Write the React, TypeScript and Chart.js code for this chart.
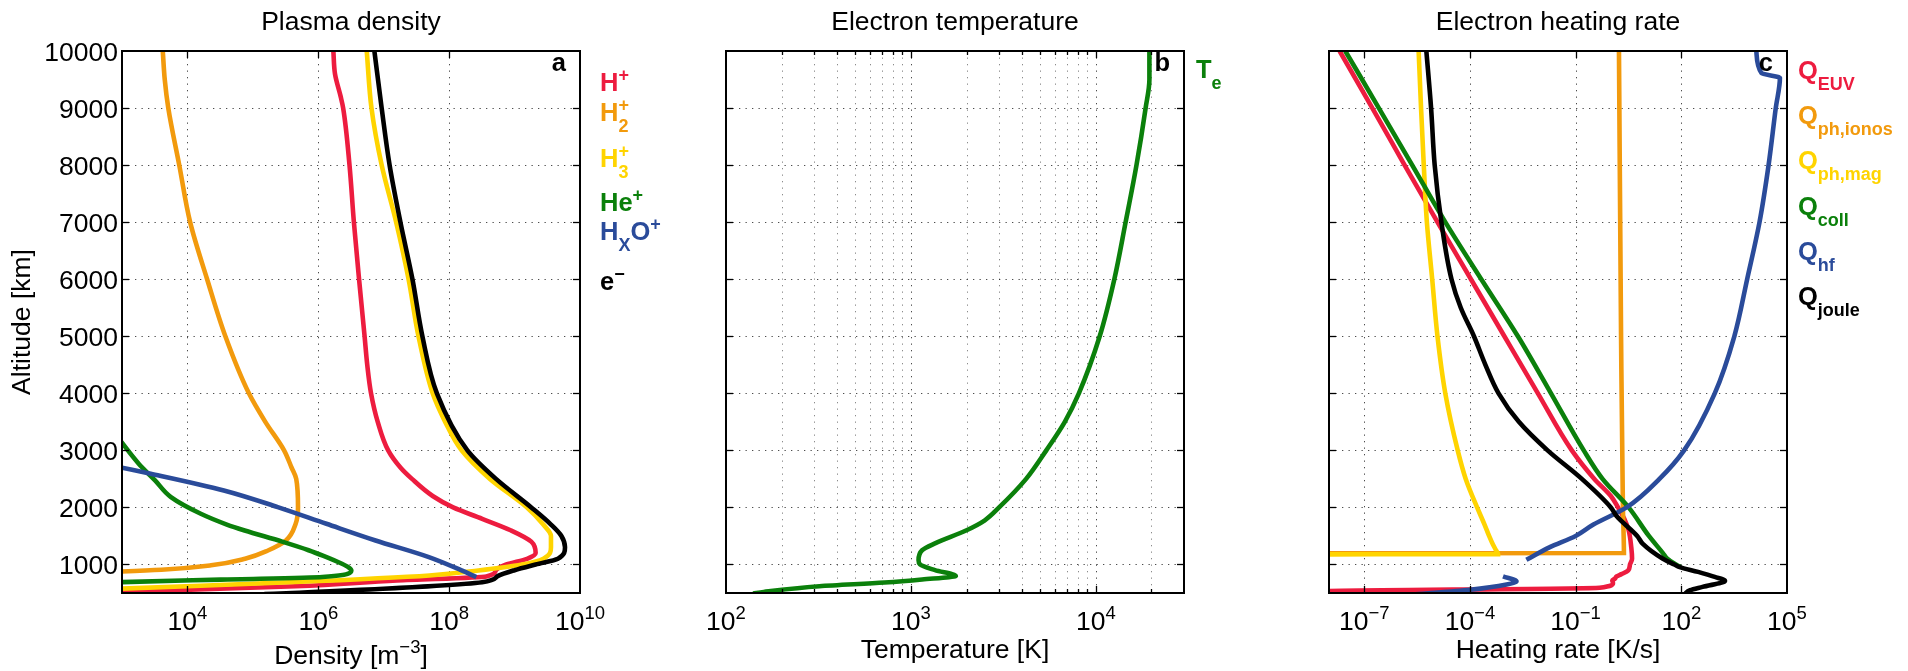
import { useEffect, useRef } from "react";
import { Chart, registerables } from "chart.js";
import type { Plugin, ChartConfiguration } from "chart.js";

Chart.register(...registerables);

const W = 1908;
const H = 671;
const FONT = '"Liberation Sans", Arial, Helvetica, sans-serif';

const RED = "#ED1C3F";
const ORANGE = "#F29A0D";
const GOLD = "#FFD400";
const GREEN = "#0B800B";
const BLUE = "#2A4B9A";
const BLACK = "#000000";

// ---------- shared altitude axis (km)
const altitudeTicks = [1000, 2000, 3000, 4000, 5000, 6000, 7000, 8000, 9000, 10000];
const altitudeTickLabels = ["1000", "2000", "3000", "4000", "5000", "6000", "7000", "8000", "9000", "10000"];

// ---------- panel a: plasma density (m^-3)
const densityTicks = [1e4, 1e6, 1e8, 1e10];
const densityTickLabels = ["10^{4}", "10^{6}", "10^{8}", "10^{10}"];
const densityLegend = ["H^{+}", "H_{2}^{+}", "H_{3}^{+}", "He^{+}", "H_{X}O^{+}", "e^{\u2212}"];

const altHplus = [10000, 9600, 9200, 9000, 8000, 7000, 6000, 5000, 4500, 4000, 3500, 3000, 2700, 2500, 2200, 2000, 1800, 1600, 1400, 1200, 1100, 1000, 900, 790, 720, 617, 518, 480];
const denHplus = [1.7e6, 1.8e6, 2.2e6, 2.4e6, 3.0e6, 3.5e6, 4.2e6, 5.1e6, 5.6e6, 6.4e6, 8.1e6, 1.17e7, 1.8e7, 2.7e7, 5.6e7, 1.15e8, 3.2e8, 8.7e8, 1.8e9, 2.1e9, 1.55e9, 7.5e8, 5.2e8, 3.7e8, 1.6e7, 4.5e5, 1.0e3, 2.0e2];

const altH2plus = [10000, 9500, 9000, 8000, 7000, 6000, 5000, 4000, 3500, 3000, 2700, 2500, 2000, 1710, 1420, 1245, 1100, 985, 907, 878, 860];
const denH2plus = [4.2e3, 4.5e3, 5.1e3, 7.5e3, 1.1e4, 2.0e4, 3.8e4, 8.7e4, 1.55e5, 3.0e5, 3.9e5, 4.6e5, 4.9e5, 4.5e5, 3.2e5, 1.7e5, 7.6e4, 2.3e4, 4.0e3, 1.0e3, 3.0e2];

const altH3plus = [10000, 9000, 8000, 7000, 6000, 5000, 4000, 3500, 3000, 2500, 2000, 1700, 1500, 1300, 1100, 1000, 895, 808, 692, 576, 550];
const denH3plus = [5.5e6, 6.5e6, 9.3e6, 1.55e7, 2.4e7, 3.4e7, 5.6e7, 8.7e7, 1.55e8, 4.2e8, 1.55e9, 2.75e9, 3.6e9, 3.6e9, 2.75e9, 1.3e9, 2.8e8, 5.0e7, 4.5e5, 1.0e3, 3.0e2];

const altHeplus = [3200, 2766, 2474, 2181, 1889, 1700, 1596, 1400, 1250, 1150, 1012, 950, 895, 780, 735, 690, 670];
const denHeplus = [9.0e2, 1.8e3, 3.2e3, 5.6e3, 1.6e4, 4.0e4, 7.5e4, 2.8e5, 7.1e5, 1.2e6, 2.3e6, 2.9e6, 3.2e6, 1.15e6, 3.2e4, 1.0e3, 3.0e2];

const altHxOplus = [2750, 2696, 2591, 2298, 2006, 1713, 1421, 1129, 895, 778];
const denHxOplus = [6.0e2, 1.0e3, 2.75e3, 3.6e4, 2.4e5, 1.33e6, 7.5e6, 4.9e7, 1.55e8, 2.6e8];

const altElectron = [10000, 9000, 8000, 7000, 6000, 5000, 4000, 3000, 2500, 2000, 1700, 1500, 1300, 1100, 1000, 900, 800, 690, 500, 480];
const denElectron = [7.2e6, 9.3e6, 1.23e7, 1.8e7, 2.75e7, 3.9e7, 6.5e7, 1.9e8, 5.2e8, 1.8e9, 3.6e9, 5.2e9, 5.9e9, 4.6e9, 2.1e9, 1.0e9, 5.6e8, 3.2e8, 4.0e5, 1.5e5];

// ---------- panel b: electron temperature (K)
const tempTicks = [1e2, 1e3, 1e4];
const tempTickLabels = ["10^{2}", "10^{3}", "10^{4}"];
const tempMinorTicks = [200, 300, 400, 500, 600, 700, 800, 900, 2000, 3000, 4000, 5000, 6000, 7000, 8000, 9000, 20000];
const tempLegend = ["T_{e}"];

const altTe = [10000, 9500, 9000, 8000, 7000, 6000, 5000, 4000, 3500, 3000, 2500, 2000, 1770, 1600, 1370, 1250, 1075, 1000, 900, 800, 736, 683, 619, 519, 490];
const tempTe = [1.95e4, 1.95e4, 1.86e4, 1.66e4, 1.45e4, 1.26e4, 1.05e4, 8.1e3, 6.8e3, 5.4e3, 4.2e3, 3.0e3, 2.5e3, 2.0e3, 1.35e3, 1.15e3, 1.1e3, 1.12e3, 1.35e3, 1.75e3, 1.15e3, 7.2e2, 3.2e2, 1.6e2, 1.4e2];

// ---------- panel c: electron heating rate (K/s)
const heatTicks = [1e-7, 1e-4, 1e-1, 1e2, 1e5];
const heatTickLabels = ["10^{\u22127}", "10^{\u22124}", "10^{\u22121}", "10^{2}", "10^{5}"];
const heatLegend = ["Q_{EUV}", "Q_{ph,ionos}", "Q_{ph,mag}", "Q_{coll}", "Q_{hf}", "Q_{joule}"];

const altQeuv = [10000, 9000, 8000, 7000, 6000, 5000, 4000, 3000, 2500, 2200, 2000, 1800, 1600, 1300, 1100, 1000, 895, 830, 790, 750, 720, 675, 593, 535, 520];
const qEuv = [2.0e-8, 1.7e-7, 1.4e-6, 1.2e-5, 1.07e-4, 9.5e-4, 8.5e-3, 7.8e-2, 0.34, 1.0, 1.6, 2.4, 3.2, 3.8, 4.0, 3.5, 3.1, 2.0, 1.45, 1.3, 1.1, 1.15, 0.48, 1e-8, 1e-9];

const altQionos = [10000, 5000, 2000, 1200, 1196];
const qIonos = [1.7, 1.95, 2.2, 2.35, 1e-9];

const altQmag = [10000, 9000, 8000, 7000, 6000, 5000, 4000, 3000, 2500, 2000, 1700, 1500, 1350, 1250, 1182, 1176];
const qMag = [3.5e-6, 4.1e-6, 4.9e-6, 6.0e-6, 8.5e-6, 1.2e-5, 2.0e-5, 4.5e-5, 7.6e-5, 1.6e-4, 2.6e-4, 3.5e-4, 4.5e-4, 5.5e-4, 6.3e-4, 1e-9];

const altQcoll = [10000, 9000, 8000, 7000, 6000, 5000, 4000, 3000, 2500, 2000, 1500, 1200, 1100, 1000, 954];
const qColl = [2.9e-8, 2.6e-7, 2.3e-6, 2.0e-5, 2.1e-4, 2.3e-3, 2.0e-2, 0.17, 0.58, 3.2, 12, 30, 40, 70, 95];

const altQhf = [10000, 9610, 9530, 9000, 8000, 7000, 6000, 5000, 4000, 3000, 2500, 2000, 1700, 1500, 1300, 1081];
const qHf = [1.35e4, 1.9e4, 6.3e4, 4.8e4, 3.0e4, 1.66e4, 7.4e3, 3.2e3, 890, 120, 24, 2.8, 0.32, 0.1, 1.8e-2, 4.0e-3];
const altQhfLow = [477, 558, 651, 704, 791];
const qHfLow = [2.8e-6, 1.0e-4, 1.1e-3, 2.1e-3, 8.7e-4];

const altQjoule = [10000, 9000, 8000, 7000, 6000, 5500, 5000, 4500, 4000, 3500, 3000, 2500, 2000, 1850, 1500, 1360, 1100, 1000, 954, 870, 782, 712, 607, 548, 500, 480];
const qJoule = [5.8e-6, 7.9e-6, 1.0e-5, 1.55e-5, 3.0e-5, 5.5e-5, 1.3e-4, 2.75e-4, 6.5e-4, 2.45e-3, 1.6e-2, 0.15, 1.0, 1.45, 5.6, 8.1, 30, 63, 90, 300, 890, 1740, 400, 178, 135, 130];

// ---------- layout types
type Curve = { alt: number[]; val: number[]; color: string };
type LegendItem = { text: string; color: string; baseline: number };
type PanelCfg = {
  key: string;
  box: { left: number; right: number; top: number; bottom: number };
  xMin: number;
  xMax: number;
  xTicks: number[];
  xTickLabels: string[];
  xMinor: number[];
  yLabels: boolean;
  title: string;
  xTitle: string;
  xTitleBaseline: number;
  letter: string;
  legendX: number;
  legend: LegendItem[];
  curves: Curve[];
};

// ---------- rich text (TeX-like sub/superscripts)
type Run = { t: string; size: number; dy: number };

function parseTex(s: string, main: number, small: number, subDy: number, supDy: number): Run[][] {
  const groups: Run[][] = [];
  let buf = "";
  let lastScript = false;
  const flush = () => {
    if (buf) {
      groups.push([{ t: buf, size: main, dy: 0 }]);
      buf = "";
    }
  };
  let i = 0;
  while (i < s.length) {
    const c = s[i];
    if ((c === "_" || c === "^") && s[i + 1] === "{") {
      flush();
      const end = s.indexOf("}", i);
      const run = { t: s.slice(i + 2, end), size: small, dy: c === "_" ? subDy : supDy };
      if (lastScript) groups[groups.length - 1].push(run);
      else groups.push([run]);
      lastScript = true;
      i = end + 1;
    } else {
      buf += c;
      lastScript = false;
      i++;
    }
  }
  flush();
  return groups;
}

function setFont(ctx: CanvasRenderingContext2D, size: number, bold: boolean) {
  ctx.font = `${bold ? "bold " : ""}${size}px ${FONT}`;
}

type TexOpts = {
  main: number;
  small: number;
  subDy: number;
  supDy: number;
  bold?: boolean;
  color?: string;
  align?: "left" | "center" | "right";
};

function drawTex(ctx: CanvasRenderingContext2D, s: string, x: number, y: number, o: TexOpts) {
  const groups = parseTex(s, o.main, o.small, o.subDy, o.supDy);
  const bold = !!o.bold;
  let w = 0;
  for (const g of groups) {
    let adv = 0;
    for (const r of g) {
      setFont(ctx, r.size, bold);
      adv = Math.max(adv, ctx.measureText(r.t).width);
    }
    w += adv;
  }
  let cx = o.align === "center" ? x - w / 2 : o.align === "right" ? x - w : x;
  ctx.save();
  ctx.fillStyle = o.color ?? "#000";
  ctx.textAlign = "left";
  ctx.textBaseline = "alphabetic";
  for (const g of groups) {
    let adv = 0;
    for (const r of g) {
      setFont(ctx, r.size, bold);
      const rw = ctx.measureText(r.t).width;
      ctx.fillText(r.t, cx, y + r.dy);
      adv = Math.max(adv, rw);
    }
    cx += adv;
  }
  ctx.restore();
}

const AXIS_TEXT: TexOpts = { main: 26.5, small: 18.5, subDy: 8, supDy: -11 };
const LEGEND_TEXT: TexOpts = { main: 25.5, small: 18, subDy: 11, supDy: -10, bold: true };

// ---------- axes frame, grid, ticks and annotations
function framePlugin(p: PanelCfg): Plugin<"line"> {
  return {
    id: "frame-" + p.key,
    beforeDatasetsDraw(chart) {
      const { ctx, chartArea: a } = chart;
      const xs = chart.scales.x;
      const ys = chart.scales.y;
      ctx.save();
      ctx.lineWidth = 1;
      ctx.setLineDash([1.3, 5.2]);
      const vline = (v: number, style: string) => {
        const px = Math.round(xs.getPixelForValue(v)) + 0.5;
        if (px <= a.left + 2 || px >= a.right - 2) return;
        ctx.strokeStyle = style;
        ctx.beginPath();
        ctx.moveTo(px, a.top);
        ctx.lineTo(px, a.bottom);
        ctx.stroke();
      };
      p.xMinor.forEach((v) => vline(v, "rgba(0,0,0,0.45)"));
      p.xTicks.forEach((v) => vline(v, "rgba(0,0,0,0.7)"));
      for (const v of altitudeTicks) {
        const py = Math.round(ys.getPixelForValue(v)) + 0.5;
        if (py <= a.top + 2 || py >= a.bottom - 2) continue;
        ctx.strokeStyle = "rgba(0,0,0,0.7)";
        ctx.beginPath();
        ctx.moveTo(a.left, py);
        ctx.lineTo(a.right, py);
        ctx.stroke();
      }
      ctx.restore();
    },
    afterDatasetsDraw(chart) {
      const { ctx, chartArea: a } = chart;
      const xs = chart.scales.x;
      const ys = chart.scales.y;
      ctx.save();
      ctx.setLineDash([]);
      ctx.strokeStyle = "#000";
      ctx.lineWidth = 1.3;
      const seg = (x1: number, y1: number, x2: number, y2: number) => {
        ctx.beginPath();
        ctx.moveTo(x1, y1);
        ctx.lineTo(x2, y2);
        ctx.stroke();
      };
      const xTick = (v: number, len: number) => {
        const px = Math.round(xs.getPixelForValue(v)) + 0.5;
        if (px <= a.left + 2 || px >= a.right - 2) return;
        seg(px, a.bottom, px, a.bottom - len);
        seg(px, a.top, px, a.top + len);
      };
      p.xMinor.forEach((v) => xTick(v, 4));
      p.xTicks.forEach((v) => xTick(v, 7));
      for (const v of altitudeTicks) {
        const py = Math.round(ys.getPixelForValue(v)) + 0.5;
        if (py <= a.top + 2 || py >= a.bottom - 2) continue;
        seg(a.left, py, a.left + 7, py);
        seg(a.right, py, a.right - 7, py);
      }
      ctx.lineWidth = 2;
      ctx.strokeRect(a.left, a.top, a.right - a.left, a.bottom - a.top);
      ctx.restore();

      const cxm = (a.left + a.right) / 2;
      drawTex(ctx, p.title, cxm, 29.5, { ...AXIS_TEXT, align: "center" });
      p.xTicks.forEach((v, i) => {
        drawTex(ctx, p.xTickLabels[i], xs.getPixelForValue(v), a.bottom + 37, { ...AXIS_TEXT, align: "center" });
      });
      drawTex(ctx, p.xTitle, cxm, p.xTitleBaseline, { ...AXIS_TEXT, align: "center" });

      if (p.yLabels) {
        altitudeTicks.forEach((v, i) => {
          drawTex(ctx, altitudeTickLabels[i], a.left - 4, ys.getPixelForValue(v) + 9.5, { ...AXIS_TEXT, align: "right" });
        });
        ctx.save();
        ctx.translate(30, (a.top + a.bottom) / 2);
        ctx.rotate(-Math.PI / 2);
        setFont(ctx, 26.5, false);
        ctx.fillStyle = "#000";
        ctx.textAlign = "center";
        ctx.textBaseline = "alphabetic";
        ctx.fillText("Altitude [km]", 0, 0);
        ctx.restore();
      }

      drawTex(ctx, p.letter, a.right - 14, a.top + 20, { ...LEGEND_TEXT, align: "right" });
      for (const item of p.legend) {
        drawTex(ctx, item.text, p.legendX, item.baseline, { ...LEGEND_TEXT, color: item.color, align: "left" });
      }
    },
  };
}

// ---------- panels
const PANELS: PanelCfg[] = [
  {
    key: "a",
    box: { left: 122, right: 580, top: 51, bottom: 593 },
    xMin: 1e3,
    xMax: 1e10,
    xTicks: densityTicks,
    xTickLabels: densityTickLabels,
    xMinor: [],
    yLabels: true,
    title: "Plasma density",
    xTitle: "Density [m^{\u22123}]",
    xTitleBaseline: 664,
    letter: "a",
    legendX: 600,
    legend: [
      { text: densityLegend[0], color: RED, baseline: 90.7 },
      { text: densityLegend[1], color: ORANGE, baseline: 120.7 },
      { text: densityLegend[2], color: GOLD, baseline: 166.7 },
      { text: densityLegend[3], color: GREEN, baseline: 210.7 },
      { text: densityLegend[4], color: BLUE, baseline: 240 },
      { text: densityLegend[5], color: BLACK, baseline: 290 },
    ],
    curves: [
      { alt: altHplus, val: denHplus, color: RED },
      { alt: altH2plus, val: denH2plus, color: ORANGE },
      { alt: altH3plus, val: denH3plus, color: GOLD },
      { alt: altHeplus, val: denHeplus, color: GREEN },
      { alt: altHxOplus, val: denHxOplus, color: BLUE },
      { alt: altElectron, val: denElectron, color: BLACK },
    ],
  },
  {
    key: "b",
    box: { left: 726, right: 1184, top: 51, bottom: 593 },
    xMin: 1e2,
    xMax: 3e4,
    xTicks: tempTicks,
    xTickLabels: tempTickLabels,
    xMinor: tempMinorTicks,
    yLabels: false,
    title: "Electron temperature",
    xTitle: "Temperature [K]",
    xTitleBaseline: 658,
    letter: "b",
    legendX: 1196,
    legend: [{ text: tempLegend[0], color: GREEN, baseline: 78.3 }],
    curves: [{ alt: altTe, val: tempTe, color: GREEN }],
  },
  {
    key: "c",
    box: { left: 1329, right: 1787, top: 51, bottom: 593 },
    xMin: 1e-8,
    xMax: 1e5,
    xTicks: heatTicks,
    xTickLabels: heatTickLabels,
    xMinor: [],
    yLabels: false,
    title: "Electron heating rate",
    xTitle: "Heating rate [K/s]",
    xTitleBaseline: 658,
    letter: "c",
    legendX: 1798,
    legend: [
      { text: heatLegend[0], color: RED, baseline: 78.7 },
      { text: heatLegend[1], color: ORANGE, baseline: 124 },
      { text: heatLegend[2], color: GOLD, baseline: 169.3 },
      { text: heatLegend[3], color: GREEN, baseline: 214.7 },
      { text: heatLegend[4], color: BLUE, baseline: 260 },
      { text: heatLegend[5], color: BLACK, baseline: 305 },
    ],
    curves: [
      { alt: altQeuv, val: qEuv, color: RED },
      { alt: altQionos, val: qIonos, color: ORANGE },
      { alt: altQmag, val: qMag, color: GOLD },
      { alt: altQcoll, val: qColl, color: GREEN },
      { alt: altQhf, val: qHf, color: BLUE },
      { alt: altQhfLow, val: qHfLow, color: BLUE },
      { alt: altQjoule, val: qJoule, color: BLACK },
    ],
  },
];

function Panel({ cfg }: { cfg: PanelCfg }) {
  const ref = useRef<HTMLCanvasElement>(null);
  useEffect(() => {
    const canvas = ref.current;
    if (!canvas) return;
    const n = cfg.curves.length;
    const config: ChartConfiguration<"line"> = {
      type: "line",
      data: {
        datasets: cfg.curves.map((c, i) => ({
          data: c.alt.map((alt, j) => ({ x: c.val[j], y: alt })),
          borderColor: c.color,
          backgroundColor: c.color,
          borderWidth: 4.6,
          pointRadius: 0,
          fill: false,
          tension: 0,
          cubicInterpolationMode: "monotone",
          clip: 0,
          order: n - i,
        })),
      },
      options: {
        indexAxis: "y",
        responsive: false,
        animation: false,
        events: [],
        layout: {
          padding: {
            left: cfg.box.left,
            right: W - cfg.box.right,
            top: cfg.box.top,
            bottom: H - cfg.box.bottom,
          },
        },
        plugins: { legend: { display: false }, tooltip: { enabled: false } },
        scales: {
          x: { type: "logarithmic", min: cfg.xMin, max: cfg.xMax, display: false },
          y: { type: "linear", min: 500, max: 10000, display: false },
        },
      },
      plugins: [framePlugin(cfg)],
    };
    const chart = new Chart(canvas, config);
    return () => chart.destroy();
  }, [cfg]);
  return <canvas ref={ref} width={W} height={H} style={{ position: "absolute", left: 0, top: 0 }} />;
}

export default function App() {
  return (
    <div style={{ position: "fixed", left: 0, top: 0, width: W, height: H, background: "#fff", overflow: "hidden" }}>
      {PANELS.map((p) => (
        <Panel key={p.key} cfg={p} />
      ))}
    </div>
  );
}
